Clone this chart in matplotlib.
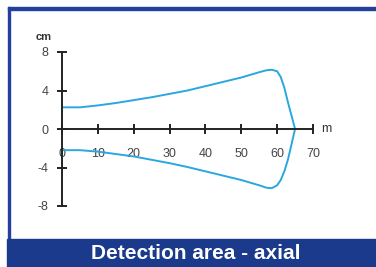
import matplotlib.pyplot as plt
from matplotlib.patches import Rectangle

plt.rcParams['font.family'] = ['Liberation Sans', 'DejaVu Sans']
plt.rcParams['axes.unicode_minus'] = False

# detection area outline, upper half then lower half (m, cm)
upper_x = [0, 5, 10, 15, 20, 25, 30, 35, 40, 45, 50, 55, 57, 58.5, 60, 61, 62, 63, 64, 65]
upper_y = [2.25, 2.25, 2.45, 2.7, 3.0, 3.3, 3.65, 4.0, 4.45, 4.9, 5.35, 5.9, 6.1, 6.15, 6.0, 5.4, 4.3, 2.8, 1.4, 0]
lower_x = [65, 64, 63, 62, 61, 60, 58.5, 57, 55, 50, 45, 40, 35, 30, 25, 20, 15, 10, 5, 0]
lower_y = [0, -1.6, -3.2, -4.4, -5.3, -5.85, -6.15, -6.1, -5.85, -5.3, -4.85, -4.4, -3.95, -3.55, -3.2, -2.85, -2.6, -2.35, -2.2, -2.2]

xticks = [0, 10, 20, 30, 40, 50, 60, 70]
yticks = [-8, -4, 0, 4, 8]

fig = plt.figure(figsize=(3.76, 2.67), dpi=100)
fig.patch.set_facecolor('white')

# 外框和底部标题条
fig.patches.append(Rectangle((8/376, (267-239)/267), 2/376, 232/267, transform=fig.transFigure,
                             color='#24409a', zorder=0))
fig.patches.append(Rectangle((8/376, (267-9.5)/267), 368/376, 2.5/267, transform=fig.transFigure,
                             color='#24409a', zorder=0))
fig.patches.append(Rectangle((7/376, 0), 369/376, 28/267, transform=fig.transFigure,
                             color='#1b3a8c', zorder=0))
fig.text(196/376, 13.5/267, 'Detection area - axial', color='white', fontsize=15,
         fontweight='bold', ha='center', va='center')

ax = fig.add_axes([62/376, 61/267, 251/376, 154/267])
ax.set_facecolor('none')
ax.plot(upper_x + lower_x, upper_y + lower_y, color='#2aa7df', lw=1.4, clip_on=False)

ax.set_xlim(0, 70)
ax.set_ylim(-8, 8)
ax.spines['left'].set_position('zero')
ax.spines['bottom'].set_position('zero')
ax.spines['top'].set_visible(False)
ax.spines['right'].set_visible(False)
for s in ['left', 'bottom']:
    ax.spines[s].set_linewidth(1.4)
    ax.spines[s].set_color('#222222')

ax.set_xticks(xticks)
ax.set_yticks(yticks)
ax.tick_params(axis='both', direction='inout', length=7, width=1.4, color='#222222',
               labelsize=9, labelcolor='#444444')
ax.tick_params(axis='x', pad=10)
ax.tick_params(axis='y', pad=6)

ax.text(-5, 9.6, 'cm', fontsize=8, fontweight='bold', color='#333333', ha='center', va='center')
ax.text(73.8, 0, 'm', fontsize=9, color='#333333', ha='center', va='center')

plt.savefig('out.png', dpi=100)
